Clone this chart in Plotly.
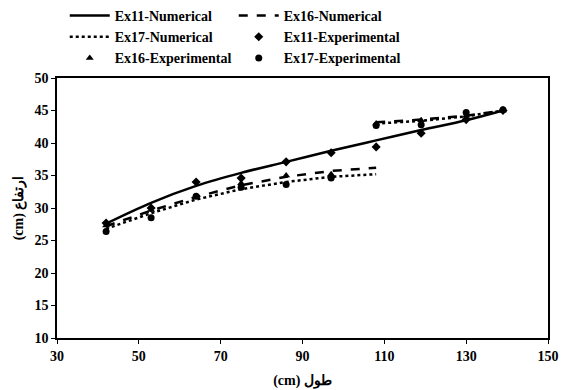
import plotly.graph_objects as go

x_pts = [42, 53, 64, 75, 86, 97, 108, 119, 130, 139]

# Numerical curves
ex11_num = [27.6, 30.8, 33.4, 35.4, 37.1, 38.8, 40.4, 42.0, 43.5, 45.0]
ex16_num_x = [42, 53, 64, 75, 86, 97, 108, None, 108, 119, 130, 139]
ex16_num = [27.2, 29.6, 31.7, 33.5, 34.8, 35.7, 36.2, None, 43.2, 43.6, 44.2, 45.0]
ex17_num_x = [42, 53, 64, 75, 86, 97, 108, None, 108, 119, 130, 139]
ex17_num = [26.8, 29.2, 31.3, 32.9, 34.0, 34.8, 35.2, None, 43.0, 43.4, 44.1, 45.0]

# Experimental points
ex11_exp = [27.7, 30.0, 34.0, 34.6, 37.1, 38.5, 39.4, 41.5, 43.6, 45.0]
ex16_exp = [27.3, 29.7, 31.8, 33.8, 35.0, 35.2, 43.0, 43.5, 44.2, 45.0]
ex17_exp = [26.4, 28.5, 31.8, 33.2, 33.6, 34.6, 42.7, 42.8, 44.7, 45.1]

x_title = "(cm) طول"
y_title = "(cm) ارتفاع"

font_family = "Liberation Serif, Times New Roman, serif"

fig = go.Figure()
fig.add_trace(go.Scatter(x=x_pts, y=ex11_num, mode="lines", name="Ex11-Numerical",
                         line=dict(color="black", width=2.5, shape="spline")))
fig.add_trace(go.Scatter(x=ex16_num_x, y=ex16_num, mode="lines", name="Ex16-Numerical",
                         line=dict(color="black", width=2.5, dash="dash")))
fig.add_trace(go.Scatter(x=ex17_num_x, y=ex17_num, mode="lines", name="Ex17-Numerical",
                         line=dict(color="black", width=2.5, dash="dot")))
fig.add_trace(go.Scatter(x=x_pts, y=ex11_exp, mode="markers", name="Ex11-Experimental",
                         marker=dict(color="black", symbol="diamond", size=7)))
fig.add_trace(go.Scatter(x=x_pts, y=ex16_exp, mode="markers", name="Ex16-Experimental",
                         marker=dict(color="black", symbol="triangle-up", size=7)))
fig.add_trace(go.Scatter(x=x_pts, y=ex17_exp, mode="markers", name="Ex17-Experimental",
                         marker=dict(color="black", symbol="circle", size=7)))

fig.update_layout(
    width=563, height=390,
    margin=dict(l=57, r=15, t=78, b=52, autoexpand=False),
    plot_bgcolor="white", paper_bgcolor="white",
    font=dict(family=font_family, color="black", size=14),
    showlegend=True,
    legend=dict(
        orientation="h",
        xref="container", yref="container",
        x=0.115, y=1.0, xanchor="left", yanchor="top",
        entrywidth=114, entrywidthmode="pixels",
        font=dict(family=font_family, size=14, weight="bold", color="black"),
        itemwidth=40, tracegroupgap=0,
        bgcolor="rgba(0,0,0,0)",
    ),
    xaxis=dict(
        range=[30, 150], dtick=20, tick0=30,
        showline=True, linecolor="black", linewidth=1.5, mirror=True,
        ticks="outside", ticklen=4, tickcolor="black",
        showgrid=False, zeroline=False,
        tickfont=dict(family=font_family, size=14, weight="bold"),
        title=dict(text=x_title, font=dict(family=font_family, size=14, weight="bold"), standoff=13),
    ),
    yaxis=dict(
        range=[10, 50], dtick=5,
        showline=True, linecolor="black", linewidth=1.5, mirror=True,
        ticks="outside", ticklen=4, tickcolor="black",
        showgrid=False, zeroline=False,
        tickfont=dict(family=font_family, size=14, weight="bold"),
        title=dict(text=y_title, font=dict(family=font_family, size=14, weight="bold"), standoff=8),
    ),
)

fig.write_html("out.html")
